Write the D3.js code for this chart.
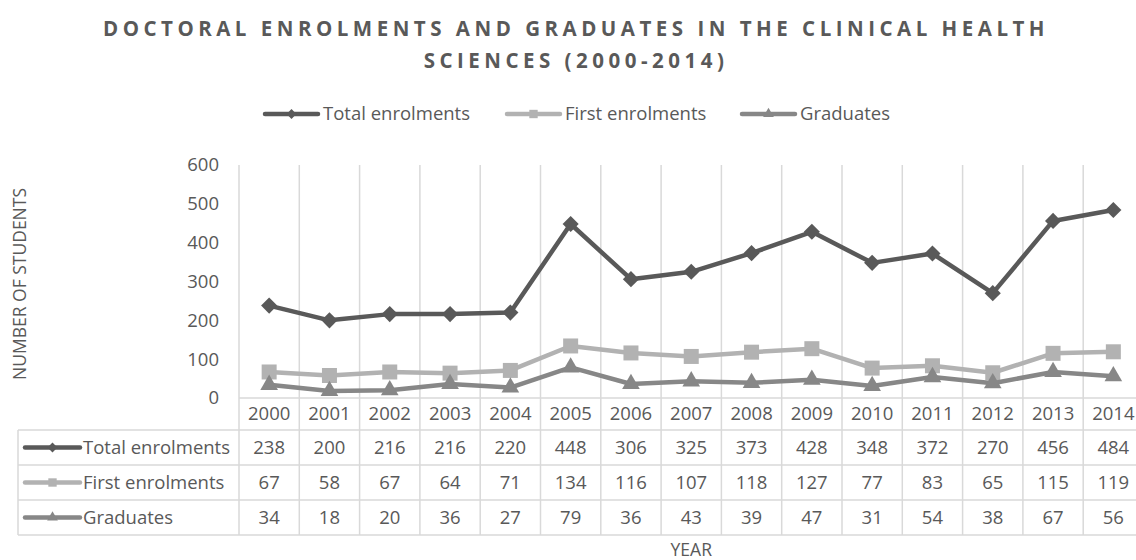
<!DOCTYPE html>
<html>
<head>
<meta charset="utf-8">
<script src="https://cdn.jsdelivr.net/npm/d3@7"></script>
<style>
  html, body { margin: 0; padding: 0; background: #fff; overflow: hidden; }
  svg { display: block; font-family: "Open Sans", sans-serif; }
</style>
</head>
<body>
<svg id="chart" width="1136" height="560"></svg>
<script>
// Doctoral enrolments and graduates, clinical health sciences
const years = ["2000","2001","2002","2003","2004","2005","2006","2007","2008","2009","2010","2011","2012","2013","2014"];
const totalEnrolments = [238, 200, 216, 216, 220, 448, 306, 325, 373, 428, 348, 372, 270, 456, 484];
const firstEnrolments = [67, 58, 67, 64, 71, 134, 116, 107, 118, 127, 77, 83, 65, 115, 119];
const graduates = [34, 18, 20, 36, 27, 79, 36, 43, 39, 47, 31, 54, 38, 67, 56];
const seriesNames = ["Total enrolments", "First enrolments", "Graduates"];
const yTicks = [0, 100, 200, 300, 400, 500, 600];

// diamond = square turned 45 degrees
const diamond = {
  draw(ctx, size) {
    const r = Math.sqrt(size / 2);
    ctx.moveTo(0, -r); ctx.lineTo(r, 0); ctx.lineTo(0, r); ctx.lineTo(-r, 0); ctx.closePath();
  }
};

const series = [
  { name: seriesNames[0], values: totalEnrolments, color: "#595959", symbol: diamond, size: 130, keySize: 48 },
  { name: seriesNames[1], values: firstEnrolments, color: "#b2b2b2", symbol: d3.symbolSquare, size: 225, keySize: 70 },
  { name: seriesNames[2], values: graduates, color: "#878787", symbol: d3.symbolTriangle, size: 135, keySize: 50 }
];

const svg = d3.select("#chart");
const textColor = "#595959";
const gridColor = "#d9d9d9";
const fs = 18.5;

// plot area
const plotLeft = 239, colW = 60.3;
const plotRight = plotLeft + colW * years.length;
const plotTop = 165, plotBottom = 398;
const tableLeft = 18;
const rowH = 35;
const tableTop = 430;

const x = d3.scaleBand().domain(years).range([plotLeft, plotRight]).padding(0);
const y = d3.scaleLinear().domain([0, 600]).range([plotBottom, plotTop]);
const cx = d => x(d) + x.bandwidth() / 2;

// title
const title = svg.append("g").attr("fill", textColor)
  .attr("font-weight", 700).attr("font-size", 20.5).attr("text-anchor", "middle")
  .style("letter-spacing", "4.5px");
title.append("text").attr("x", 576).attr("y", 36)
  .text("DOCTORAL ENROLMENTS AND GRADUATES IN THE CLINICAL HEALTH");
title.append("text").attr("x", 576).attr("y", 68)
  .text("SCIENCES (2000-2014)");

// legend
const legendItems = [
  { s: series[0], x: 265 },
  { s: series[1], x: 507 },
  { s: series[2], x: 742 }
];
const lg = svg.append("g");
legendItems.forEach(it => {
  const g = lg.append("g").attr("transform", `translate(${it.x},114)`);
  g.append("line").attr("x1", 0).attr("x2", 53).attr("y1", 0).attr("y2", 0)
    .attr("stroke", it.s.color).attr("stroke-width", 4.5).attr("stroke-linecap", "round");
  g.append("path").attr("d", d3.symbol().type(it.s.symbol).size(it.s.keySize)())
    .attr("transform", "translate(26.5,0)").attr("fill", it.s.color);
  g.append("text").attr("x", 58).attr("y", 0).attr("dy", "0.35em")
    .attr("font-size", fs).attr("fill", textColor).text(it.s.name);
});

// vertical gridlines (plot + table)
const bounds = years.map(d => x(d)).concat([plotRight]);
svg.append("g").selectAll("line").data(bounds).join("line")
  .attr("x1", d => d).attr("x2", d => d)
  .attr("y1", plotTop).attr("y2", tableTop + rowH * 3)
  .attr("stroke", gridColor).attr("stroke-width", 1.5);

// horizontal axis line and table rules
svg.append("line").attr("x1", plotLeft).attr("x2", plotRight).attr("y1", plotBottom).attr("y2", plotBottom)
  .attr("stroke", gridColor).attr("stroke-width", 1.5);
[0, 1, 2, 3].forEach(i => {
  svg.append("line").attr("x1", tableLeft).attr("x2", plotRight)
    .attr("y1", tableTop + i * rowH).attr("y2", tableTop + i * rowH)
    .attr("stroke", gridColor).attr("stroke-width", 1.5);
});
svg.append("line").attr("x1", tableLeft).attr("x2", tableLeft)
  .attr("y1", tableTop).attr("y2", tableTop + rowH * 3)
  .attr("stroke", gridColor).attr("stroke-width", 1.5);

// y axis tick labels
const yAxis = d3.axisLeft(y).tickValues(yTicks).tickSize(0).tickPadding(0);
const ya = svg.append("g").attr("transform", "translate(219,0)").call(yAxis);
ya.select(".domain").remove();
ya.selectAll("text").attr("font-size", fs).attr("fill", textColor).attr("font-family", "Open Sans, sans-serif");

// y axis title
svg.append("text").attr("transform", `translate(26,284) rotate(-90)`)
  .attr("text-anchor", "middle").attr("font-size", 17.5).attr("fill", textColor)
  .text("NUMBER OF STUDENTS");

// year labels
const xAxis = d3.axisBottom(x).tickSize(0).tickPadding(0);
const xa = svg.append("g").attr("transform", `translate(0,${plotBottom})`).call(xAxis);
xa.select(".domain").remove();
xa.selectAll("text").attr("font-size", fs).attr("fill", textColor)
  .attr("font-family", "Open Sans, sans-serif").attr("y", 16).attr("dy", "0.35em");

// x axis title
svg.append("text").attr("x", (plotLeft + plotRight) / 2).attr("y", 556)
  .attr("text-anchor", "middle").attr("font-size", 17.5).attr("fill", textColor).text("YEAR");

// lines and markers
const line = d3.line().x((d, i) => cx(years[i])).y(d => y(d));
series.forEach(s => {
  svg.append("path").datum(s.values).attr("d", line)
    .attr("fill", "none").attr("stroke", s.color).attr("stroke-width", 4.5)
    .attr("stroke-linejoin", "round");
  const sym = d3.symbol().type(s.symbol).size(s.size);
  svg.append("g").selectAll("path").data(s.values).join("path")
    .attr("d", sym())
    .attr("transform", (d, i) => `translate(${cx(years[i])},${y(d)})`)
    .attr("fill", s.color);
});

// data table rows
series.forEach((s, r) => {
  const rowY = tableTop + r * rowH + rowH / 2;
  const key = svg.append("g").attr("transform", `translate(25,${rowY})`);
  key.append("line").attr("x1", 0).attr("x2", 55).attr("y1", 0).attr("y2", 0)
    .attr("stroke", s.color).attr("stroke-width", 4.5).attr("stroke-linecap", "round");
  key.append("path").attr("d", d3.symbol().type(s.symbol).size(s.keySize)())
    .attr("transform", "translate(27.5,0)").attr("fill", s.color);
  svg.append("text").attr("x", 83).attr("y", rowY).attr("dy", "0.35em")
    .attr("font-size", fs).attr("fill", textColor).text(s.name);
  svg.append("g").selectAll("text").data(s.values).join("text")
    .attr("x", (d, i) => cx(years[i])).attr("y", rowY).attr("dy", "0.35em")
    .attr("text-anchor", "middle").attr("font-size", fs).attr("fill", textColor)
    .text(d => d);
});
</script>
</body>
</html>
